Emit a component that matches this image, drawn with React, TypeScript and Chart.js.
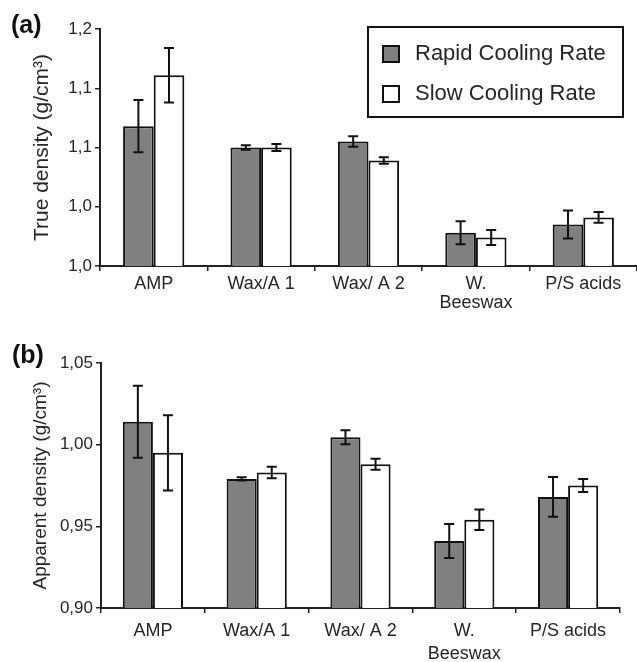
import React, { useEffect, useRef } from 'react';
import { Chart, registerables } from 'chart.js';

Chart.register(...registerables);

const FONT = "'Liberation Sans', Arial, sans-serif";
const TEXT = '#262626';

const categories: (string | string[])[] = ['AMP', 'Wax/A 1', 'Wax/ A 2', ['W.', 'Beeswax'], 'P/S acids'];
const seriesNames = ['Rapid Cooling Rate', 'Slow Cooling Rate'];
const seriesColors = ['#808080', '#ffffff'];

// Panel (a): true density
const trueRapid = [1.118, 1.1, 1.105, 1.028, 1.035];
const trueRapidErr = [0.022, 0.002, 0.0044, 0.0097, 0.0118];
const trueSlow = [1.161, 1.1, 1.089, 1.024, 1.041];
const trueSlowErr = [0.023, 0.003, 0.0028, 0.0063, 0.0045];
const trueTicks = ['1,0', '1,0', '1,1', '1,1', '1,2'];

// Panel (b): apparent density
const appRapid = [1.014, 0.979, 1.0045, 0.941, 0.968];
const appRapidErr = [0.022, 0.001, 0.0043, 0.0104, 0.0122];
const appSlow = [0.995, 0.983, 0.988, 0.954, 0.975];
const appSlowErr = [0.023, 0.0035, 0.0034, 0.0063, 0.004];
const appTicks = ['0,90', '0,95', '1,00', '1,05'];

const errorBarPlugin = {
  id: 'errorBars',
  afterDatasetsDraw(chart: any) {
    const { ctx } = chart;
    const y = chart.scales.y;
    chart.data.datasets.forEach((ds: any, i: number) => {
      const meta = chart.getDatasetMeta(i);
      const errs: number[] = ds.errors;
      if (!errs) return;
      meta.data.forEach((bar: any, j: number) => {
        const v = ds.data[j];
        const e = errs[j];
        const top = y.getPixelForValue(v + e);
        const bot = y.getPixelForValue(v - e);
        const x = bar.x;
        ctx.save();
        ctx.strokeStyle = '#111';
        ctx.lineWidth = 2;
        ctx.beginPath();
        ctx.moveTo(x, top);
        ctx.lineTo(x, bot);
        ctx.moveTo(x - 5, top);
        ctx.lineTo(x + 5, top);
        ctx.moveTo(x - 5, bot);
        ctx.lineTo(x + 5, bot);
        ctx.stroke();
        ctx.restore();
      });
    });
  },
};

const panelLabelPlugin = {
  id: 'panelLabel',
  afterDraw(chart: any, _args: any, opts: any) {
    if (!opts || !opts.text) return;
    const { ctx } = chart;
    ctx.save();
    ctx.font = `bold 25px ${FONT}`;
    ctx.fillStyle = '#111';
    ctx.textAlign = 'left';
    ctx.textBaseline = 'middle';
    ctx.fillText(opts.text, opts.x, opts.y);
    ctx.restore();
  },
};

const boxLegendPlugin = {
  id: 'boxLegend',
  afterDraw(chart: any, _args: any, opts: any) {
    if (!opts || !opts.show) return;
    const { ctx } = chart;
    const area = chart.chartArea;
    const right = area.right - 14;
    const left = right - 255;
    const top = area.top - 2;
    const h = 90;
    ctx.save();
    ctx.fillStyle = '#fff';
    ctx.fillRect(left, top, right - left, h);
    ctx.strokeStyle = '#111';
    ctx.lineWidth = 2;
    ctx.strokeRect(left, top, right - left, h);
    ctx.font = `22px ${FONT}`;
    ctx.textBaseline = 'middle';
    ctx.textAlign = 'left';
    chart.data.datasets.forEach((ds: any, i: number) => {
      const cy = top + 27 + i * 40;
      ctx.fillStyle = ds.backgroundColor;
      ctx.fillRect(left + 15, cy - 8, 16, 16);
      ctx.strokeStyle = '#111';
      ctx.lineWidth = 2;
      ctx.strokeRect(left + 15, cy - 8, 16, 16);
      ctx.fillStyle = TEXT;
      ctx.fillText(ds.label, left + 47, cy);
    });
    ctx.restore();
  },
};

type PanelProps = {
  width: number;
  height: number;
  rapid: number[];
  rapidErr: number[];
  slow: number[];
  slowErr: number[];
  min: number;
  max: number;
  tickLabels: string[];
  yTitle: string;
  yTitleSize: number;
  label: string;
  labelX: number;
  labelY: number;
  padding: { left: number; top: number; right: number; bottom: number };
  yWidth: number;
  catPct: number;
  legend: boolean;
  xLineHeight: number;
  xPad: number;
};

function Panel(p: PanelProps) {
  const ref = useRef<HTMLCanvasElement>(null);
  useEffect(() => {
    if (!ref.current) return;
    const chart = new Chart(ref.current, {
      type: 'bar',
      data: {
        labels: categories,
        datasets: [
          {
            label: seriesNames[0],
            data: p.rapid,
            errors: p.rapidErr,
            backgroundColor: seriesColors[0],
            borderColor: '#111',
            borderWidth: 2,
            categoryPercentage: p.catPct,
            barPercentage: 1,
          } as any,
          {
            label: seriesNames[1],
            data: p.slow,
            errors: p.slowErr,
            backgroundColor: seriesColors[1],
            borderColor: '#111',
            borderWidth: 2,
            categoryPercentage: p.catPct,
            barPercentage: 1,
          } as any,
        ],
      },
      options: {
        responsive: false,
        animation: false,
        devicePixelRatio: 1,
        layout: { padding: p.padding },
        plugins: {
          legend: { display: false },
          tooltip: { enabled: false },
          title: { display: false },
          panelLabel: { text: p.label, x: p.labelX, y: p.labelY },
          boxLegend: { show: p.legend },
        } as any,
        scales: {
          x: {
            offset: true,
            grid: {
              display: true,
              drawOnChartArea: false,
              drawTicks: true,
              tickLength: 5,
              color: '#222',
              lineWidth: 1.5,
              offset: true,
            },
            border: { display: true, color: '#222', width: 2 },
            ticks: {
              color: TEXT,
              font: { family: FONT, size: 18, lineHeight: p.xLineHeight },
              padding: p.xPad,
              maxRotation: 0,
              autoSkip: false,
            },
            afterFit: (s: any) => {
              s.height = 54;
            },
          },
          y: {
            min: p.min,
            max: p.max,
            grid: {
              display: true,
              drawOnChartArea: false,
              drawTicks: true,
              tickLength: 5,
              color: '#222',
              lineWidth: 1.5,
            },
            border: { display: true, color: '#222', width: 2 },
            ticks: {
              stepSize: 0.05,
              color: TEXT,
              font: { family: FONT, size: 17 },
              padding: 3,
              callback: (_v: any, i: number) => p.tickLabels[i],
            },
            title: {
              display: true,
              text: p.yTitle,
              color: TEXT,
              font: { family: FONT, size: p.yTitleSize },
              padding: { top: 0, bottom: 0 },
            },
            afterFit: (s: any) => {
              s.width = p.yWidth;
            },
          },
        },
      } as any,
      plugins: [errorBarPlugin, panelLabelPlugin, boxLegendPlugin],
    });
    return () => chart.destroy();
  }, []);
  return <canvas ref={ref} width={p.width} height={p.height} style={{ display: 'block', width: p.width, height: p.height }} />;
}

export default function App() {
  return (
    <div style={{ position: 'absolute', left: 0, top: 0, width: 637, height: 662, background: '#fff' }}>
      <Panel
        width={637}
        height={320}
        rapid={trueRapid}
        rapidErr={trueRapidErr}
        slow={trueSlow}
        slowErr={trueSlowErr}
        min={1.0}
        max={1.2}
        tickLabels={trueTicks}
        yTitle="True density (g/cm³)"
        yTitleSize={21}
        label="(a)"
        labelX={11}
        labelY={26}
        padding={{ left: 30, top: 29, right: 0, bottom: 0 }}
        yWidth={70}
        catPct={0.57}
        legend={true}
        xLineHeight={1.05}
        xPad={4}
      />
      <Panel
        width={637}
        height={342}
        rapid={appRapid}
        rapidErr={appRapidErr}
        slow={appSlow}
        slowErr={appSlowErr}
        min={0.9}
        max={1.05}
        tickLabels={appTicks}
        yTitle="Apparent density (g/cm³)"
        yTitleSize={19}
        label="(b)"
        labelX={12}
        labelY={36}
        padding={{ left: 29, top: 43, right: 17, bottom: 0 }}
        yWidth={72}
        catPct={0.58}
        legend={false}
        xLineHeight={1.3}
        xPad={6}
      />
    </div>
  );
}
